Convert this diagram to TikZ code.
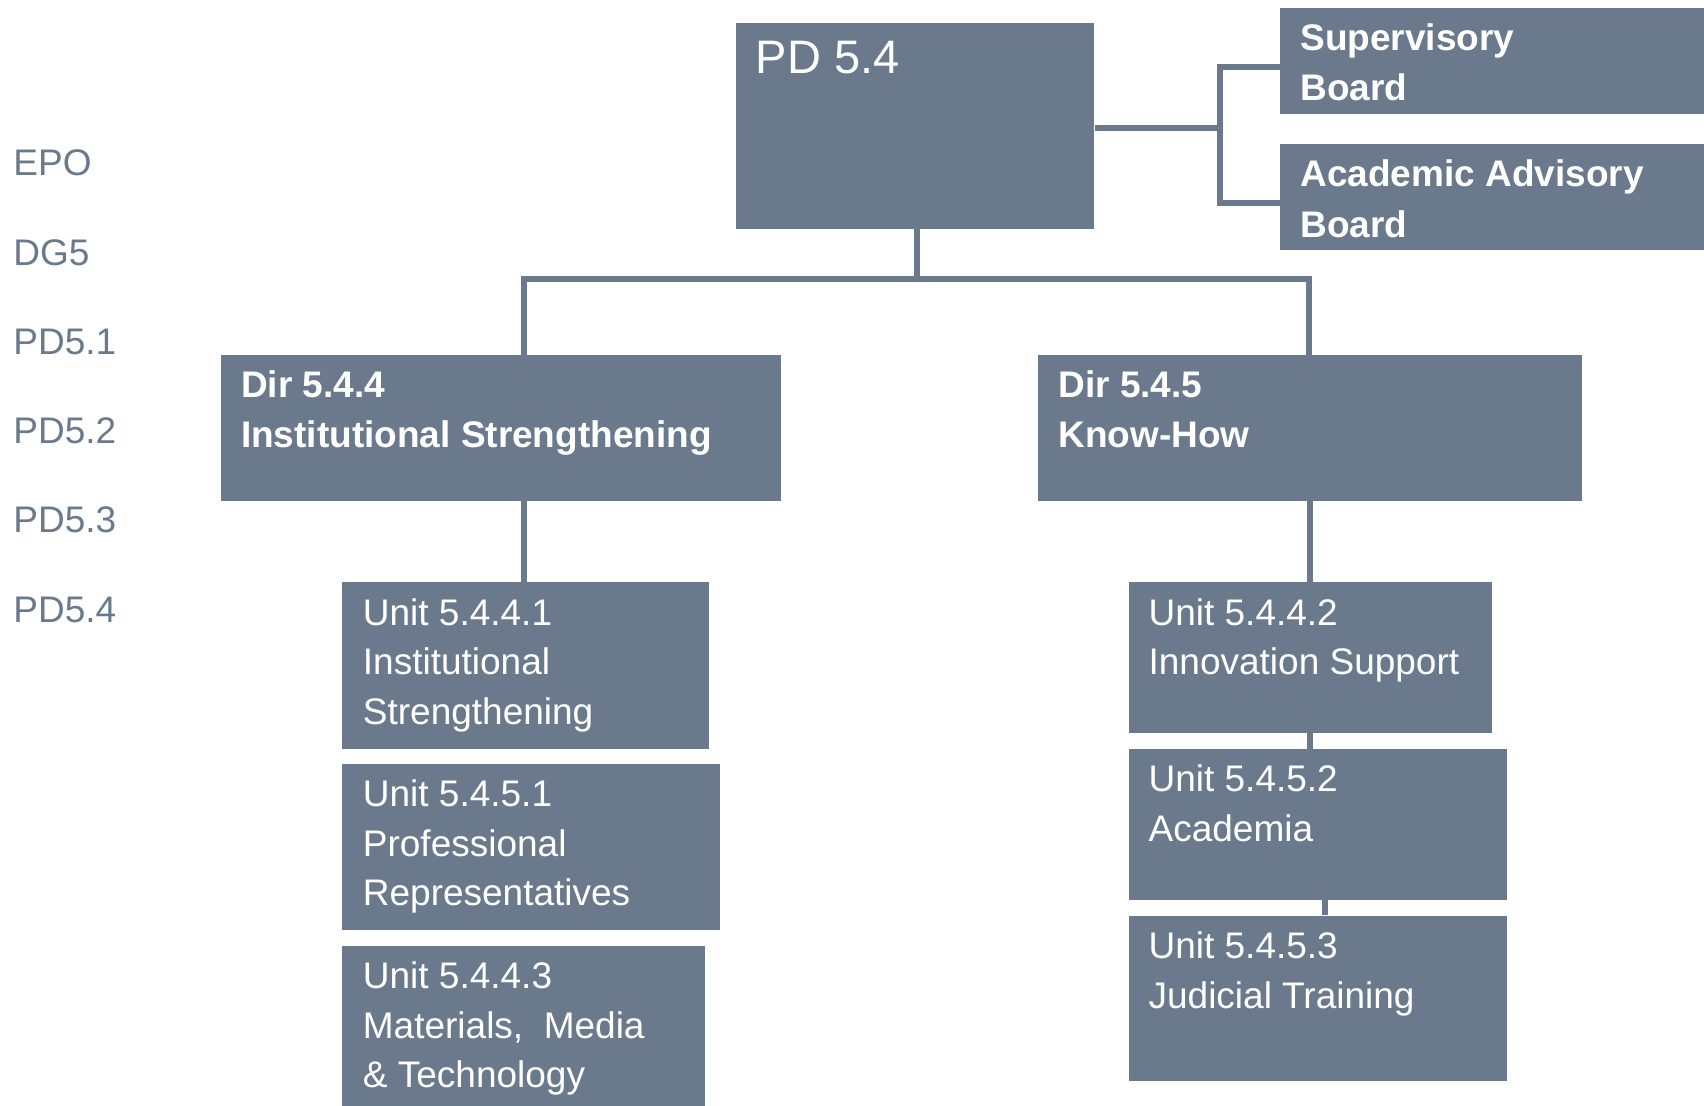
\documentclass[tikz,border=0pt]{standalone}
\usepackage{fontspec}
\setmainfont{Liberation Sans}
\usetikzlibrary{calc}

\definecolor{slate}{RGB}{106,122,140}

\tikzset{
  box/.style={fill=slate, draw=none, inner sep=0pt, anchor=north west},
  boxtext/.style={text=white, inner sep=0pt, anchor=north west, align=left,
    font=\fontsize{18.5}{24.85}\selectfont},
  boldtext/.style={boxtext, font=\fontsize{18.5}{25.3}\selectfont\bfseries},
  lvl/.style={text=slate, inner sep=0pt, anchor=west,
    font=\fontsize{18.5}{23.5}\selectfont},
  link/.style={draw=slate, line width=3pt},
}

\begin{document}
\begin{tikzpicture}[x=0.5pt, y=-0.5pt]
\useasboundingbox (0,0) rectangle (1704,1106);

% Levels on the left
\node[lvl] (epo) at (13,162.5) {EPO};
\node[lvl] (dg) at (13,252.5) {DG5};
\node[lvl] (pdone) at (13,341.5) {PD5.1};
\node[lvl] (pdtwo) at (13,431) {PD5.2};
\node[lvl] (pdthree) at (13,520) {PD5.3};
\node[lvl] (pdfour) at (13,609.5) {PD5.4};

% Top level and boards
\node[box, minimum width=179.3pt, minimum height=103pt] (pd) at (735.3,22.7) {};
\node[boxtext, font=\fontsize{23.5}{28}\selectfont] (pdtxt) at ([shift={(20,18)}]pd.north west) {PD 5.4};
\node[box, minimum width=215pt, minimum height=53pt] (sup) at (1280,7.3) {};
\node[boldtext] (suptxt) at ([shift={(20,15.5)}]sup.north west) {Supervisory\\Board};
\node[box, minimum width=215pt, minimum height=52.7pt] (aab) at (1280,144) {};
\node[boldtext] (aabtxt) at ([shift={(20,15.5)}]aab.north west) {Academic Advisory\\Board};

% Directorates
\node[box, minimum width=280pt, minimum height=72.8pt] (dir4) at (220.7,355) {};
\node[boldtext] (dir4txt) at ([shift={(20,15)}]dir4.north west) {Dir 5.4.4\\Institutional Strengthening};
\node[box, minimum width=272pt, minimum height=72.8pt] (dir5) at (1038,355) {};
\node[boldtext] (dir5txt) at ([shift={(20,15)}]dir5.north west) {Dir 5.4.5\\Know-How};

% Units, left column
\node[box, minimum width=183.5pt, minimum height=83.35pt] (ua) at (342,582) {};
\node[boxtext] (uatxt) at ([shift={(20.5,16)}]ua.north west) {Unit 5.4.4.1\\Institutional\\Strengthening};
\node[box, minimum width=188.85pt, minimum height=83pt] (ub) at (342,763.3) {};
\node[boxtext] (ubtxt) at ([shift={(20.5,16)}]ub.north west) {Unit 5.4.5.1\\Professional\\Representatives};
\node[box, minimum width=181.5pt, minimum height=82.5pt] (uc) at (342,945.3) {};
\node[boxtext] (uctxt) at ([shift={(20.5,16)}]uc.north west) {Unit 5.4.4.3\\Materials,~ Media\\\& Technology};

% Units, right column
\node[box, minimum width=181.5pt, minimum height=75.35pt] (ud) at (1128.7,582) {};
\node[boxtext] (udtxt) at ([shift={(19.5,16)}]ud.north west) {Unit 5.4.4.2\\Innovation Support};
\node[box, minimum width=189pt, minimum height=75.3pt] (ue) at (1128.7,748.7) {};
\node[boxtext] (uetxt) at ([shift={(19.5,16)}]ue.north west) {Unit 5.4.5.2\\Academia};
\node[box, minimum width=189pt, minimum height=82.85pt] (uf) at (1128.7,915.3) {};
\node[boxtext] (uftxt) at ([shift={(19.5,16)}]uf.north west) {Unit 5.4.5.3\\Judicial Training};

% Connectors
\coordinate (hub) at (1219.5,128);
\coordinate (brdtop) at (1219.5,67.5);
\coordinate (brdbot) at (1219.5,203);
\coordinate (busL) at (524,279.3);
\coordinate (busR) at (1309,279.3);
\draw[link] (pd.east |- hub) -- (hub);
\draw[link] (sup.west |- brdtop) -- (brdtop) -- (brdbot) -- (aab.west |- brdbot);
\draw[link] ([xshift=1pt]pd.south) -- ([xshift=1pt]pd.south |- busL);
\draw[link] (dir4.north -| busL) -- (busL) -- (busR) -- (dir5.north -| busR);
\draw[link] (dir4.south -| busL) -- (ua.north -| busL);
\draw[link] (dir5.south) -- (ud.north -| dir5.south);
\draw[link] (ud.south -| dir5.south) -- (ue.north -| dir5.south);
\draw[link] ([xshift=3.65pt]ue.south) -- ([xshift=3.65pt]uf.north);
\end{tikzpicture}
\end{document}
